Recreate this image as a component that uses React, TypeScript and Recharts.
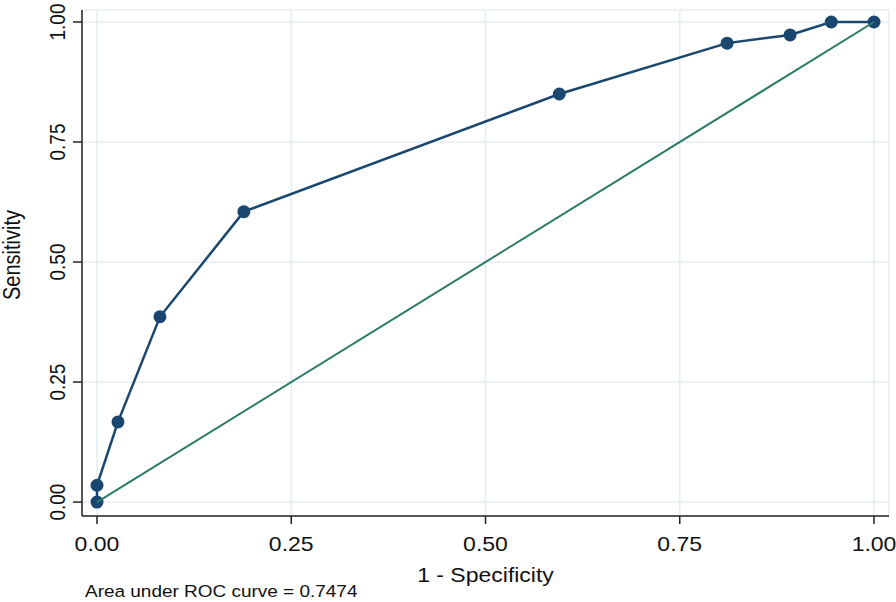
import React from 'react';
import { ScatterChart, Scatter, XAxis, YAxis, CartesianGrid } from 'recharts';

const rocPoints = [
  { x: 0, y: 0 },
  { x: 0, y: 0.035 },
  { x: 0.027, y: 0.167 },
  { x: 0.081, y: 0.386 },
  { x: 0.189, y: 0.605 },
  { x: 0.595, y: 0.85 },
  { x: 0.811, y: 0.956 },
  { x: 0.892, y: 0.973 },
  { x: 0.945, y: 1 },
  { x: 1, y: 1 },
];
const diagonal = [
  { x: 0, y: 0 },
  { x: 1, y: 1 },
];
const xTicks = [0, 0.25, 0.5, 0.75, 1];
const yTicks = [0, 0.25, 0.5, 0.75, 1];
const xTitle = '1 - Specificity';
const yTitle = 'Sensitivity';
const note = 'Area under ROC curve = 0.7474';

const FONT = '"Liberation Sans", Arial, Helvetica, sans-serif';
const NAVY = '#1a476f';
const TEAL = '#2b7a65';
const AXIS = '#222222';
const GRID = '#e4eef2';
const SX = 1.15;

const YTick = (props: any) => {
  const { x, y, payload } = props;
  return (
    <text
      transform={`translate(${x - 14},${y}) scale(${SX},1) rotate(-90)`}
      textAnchor="middle"
      dominantBaseline="central"
      fontFamily={FONT}
      fontSize={19}
      fill="#111"
    >
      {Number(payload.value).toFixed(2)}
    </text>
  );
};

const XTick = (props: any) => {
  const { x, y, payload } = props;
  return (
    <text
      transform={`translate(${x},${y + 18}) scale(${SX},1)`}
      textAnchor="middle"
      dominantBaseline="central"
      fontFamily={FONT}
      fontSize={20}
      fill="#111"
    >
      {Number(payload.value).toFixed(2)}
    </text>
  );
};

const XTitle = (props: any) => {
  const vb = props.viewBox || { x: 0, y: 0, width: 0, height: 0 };
  return (
    <g>
      <text
        transform={`translate(${vb.x + vb.width / 2},582) scale(${SX},1)`}
        textAnchor="middle"
        fontFamily={FONT}
        fontSize={20}
        fill="#111"
      >
        {xTitle}
      </text>
      <text
        transform={`translate(85,597) scale(${SX},1)`}
        textAnchor="start"
        fontFamily={FONT}
        fontSize={16.5}
        fill="#111"
      >
        {note}
      </text>
    </g>
  );
};

const YTitle = (props: any) => {
  const vb = props.viewBox || { x: 0, y: 0, width: 0, height: 0 };
  const cy = vb.y + vb.height / 2;
  return (
    <text
      transform={`translate(12,${cy - 8}) scale(${SX},1) rotate(-90)`}
      textAnchor="middle"
      dominantBaseline="central"
      fontFamily={FONT}
      fontSize={20}
      fill="#111"
    >
      {yTitle}
    </text>
  );
};

const Dot = (props: any) => {
  const { cx, cy } = props;
  if (cx == null || cy == null) return <g />;
  return <circle cx={cx} cy={cy} r={6.5} fill={NAVY} />;
};

const NoDot = () => <g />;

export default function App() {
  return (
    <div style={{ position: 'absolute', left: 0, top: 0, background: '#fff' }}>
      <ScatterChart
        width={896}
        height={602}
        margin={{ top: 10, right: 7, bottom: 0, left: 0 }}
      >
        <CartesianGrid stroke={GRID} strokeWidth={1.5} />
        <XAxis
          type="number"
          dataKey="x"
          domain={[-0.0193, 1.0193]}
          allowDataOverflow
          ticks={xTicks}
          height={86}
          tickSize={8}
          stroke={AXIS}
          strokeWidth={1.5}
          tick={<XTick />}
          label={<XTitle />}
        />
        <YAxis
          type="number"
          dataKey="y"
          domain={[-0.029, 1.025]}
          allowDataOverflow
          ticks={yTicks}
          width={82}
          tickSize={9}
          stroke={AXIS}
          strokeWidth={1.5}
          tick={<YTick />}
          label={<YTitle />}
        />
        <Scatter
          data={rocPoints}
          line={{ stroke: NAVY, strokeWidth: 2.5 }}
          shape={<Dot />}
          isAnimationActive={false}
        />
        <Scatter
          data={diagonal}
          line={{ stroke: TEAL, strokeWidth: 2 }}
          shape={<NoDot />}
          isAnimationActive={false}
        />
      </ScatterChart>
    </div>
  );
}
